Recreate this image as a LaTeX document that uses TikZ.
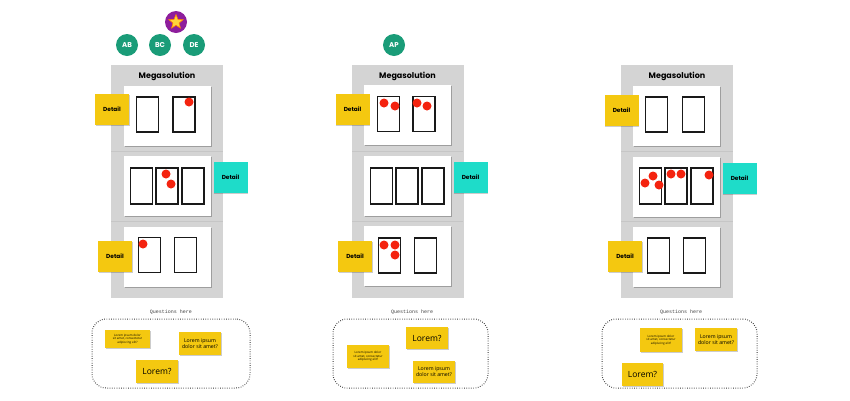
\documentclass[tikz,border=0pt]{standalone}
\usepackage{fontspec}
\usepackage{tikz}
\usetikzlibrary{shapes.geometric, shadows}
\newfontfamily\popfont{Poppins}
\newfontfamily\notefont{Open Sans}
\newfontfamily\qfont{Liberation Mono}
\definecolor{panelgrey}{HTML}{D4D4D4}
\definecolor{sepgrey}{HTML}{C6C6C6}
\definecolor{stickyyellow}{HTML}{F4C810}
\definecolor{stickycyan}{HTML}{1EDCC9}
\definecolor{dotred}{HTML}{F4230F}
\definecolor{teamgreen}{HTML}{1A9C78}
\definecolor{starpurple}{HTML}{8E1E9C}
\definecolor{starfill}{HTML}{FFD43A}

\begin{document}
\begin{tikzpicture}[x=1pt, y=-1pt,
  panel/.style={fill=panelgrey, minimum width=112pt, minimum height=233pt, inner sep=0pt},
  title/.style={font=\popfont\bfseries\fontsize{8}{9}\selectfont},
  sepline/.style={draw=sepgrey, line width=0.6pt},
  card/.style={fill=white, minimum width=87pt, minimum height=60pt, inner sep=0pt,
    drop shadow={shadow xshift=1pt, shadow yshift=-1.2pt, opacity=0.25, fill=black}},
  frame/.style={draw=black!90, line width=1.5pt, minimum width=22pt, minimum height=35pt, inner sep=0pt},
  dot/.style={circle, fill=dotred, minimum size=9pt, inner sep=0pt},
  detail/.style={fill=stickyyellow, minimum width=34pt, minimum height=31pt, inner sep=0pt,
    font=\popfont\bfseries\fontsize{5.8}{7}\selectfont,
    drop shadow={shadow xshift=0.8pt, shadow yshift=-1pt, opacity=0.2, fill=black}},
  cyan/.style={detail, fill=stickycyan},
  team/.style={circle, fill=teamgreen, text=white, minimum size=22pt, inner sep=0pt,
    font=\popfont\bfseries\fontsize{7}{8}\selectfont},
  question/.style={font=\qfont\fontsize{5}{6}\selectfont, text=black!75},
  board/.style={draw=black!80, line width=1pt, dash pattern=on 0.7pt off 1.6pt,
    rounded corners=14pt, minimum height=69pt, inner sep=0pt},
  note/.style={fill=stickyyellow, align=center, inner sep=0pt, minimum width=42pt, minimum height=22pt,
    font=\notefont\fontsize{5.2}{6}\selectfont,
    drop shadow={shadow xshift=0.6pt, shadow yshift=-1pt, opacity=0.2, fill=black}},
  tiny/.style={note, font=\notefont\fontsize{3}{3.6}\selectfont},
  big/.style={note, font=\notefont\fontsize{8.5}{9}\selectfont}
]
\useasboundingbox (0,0) rectangle (850,400);

% votes
\node[team] (ab) at (127,45) {AB};
\node[team] (bc) at (160,45) {BC};
\node[team] (de) at (194,45) {DE};
\node[circle, fill=starpurple, minimum size=22pt, inner sep=0pt] (fav) at (176,22) {};
\node[star, star points=5, star point ratio=2.3, fill=starfill, draw=orange, line width=0.6pt,
  minimum size=15pt, inner sep=0pt] (favstar) at (fav) {};
\node[team] (ap) at (394,45) {AP};

% first solution
\node[panel] (panelA) at (167,181.5) {};
\node[title] (titleA) at (167,76) {Megasolution};
\draw[sepline] (111,151) -- (223,151);
\draw[sepline] (111,221) -- (223,221);
\node[card] (cardA1) at (167.5,116) {};
\node[card] (cardA2) at (167.5,186) {};
\node[card] (cardA3) at (167.5,256.5) {};
\node[frame] (fA11) at (147.5,114.5) {};
\node[frame] (fA12) at (184,114.5) {};
\node[frame, minimum height=36pt] (fA21) at (141.5,186) {};
\node[frame, minimum height=36pt] (fA22) at (167,186) {};
\node[frame, minimum height=36pt] (fA23) at (193,186) {};
\node[frame] (fA31) at (149.5,255) {};
\node[frame] (fA32) at (185.5,255) {};
\node[dot] (dA1) at (189,102) {};
\node[dot] (dA2) at (166,174) {};
\node[dot] (dA3) at (171,184) {};
\node[dot] (dA4) at (143,244) {};
\node[detail] (detA1) at (112,109.5) {Detail};
\node[cyan] (detA2) at (230.5,177) {Detail};
\node[detail] (detA3) at (115,256) {Detail};

% second solution
\node[panel] (panelB) at (407.5,181.5) {};
\node[title] (titleB) at (407.5,76) {Megasolution};
\draw[sepline] (352,151) -- (463,151);
\draw[sepline] (352,221) -- (463,221);
\node[card] (cardB1) at (407.5,115) {};
\node[card] (cardB2) at (407.5,185.5) {};
\node[card] (cardB3) at (407.5,256) {};
\node[frame] (fB11) at (388.5,114) {};
\node[frame] (fB12) at (424,114) {};
\node[frame, minimum height=36pt] (fB21) at (381.5,186) {};
\node[frame, minimum height=36pt] (fB22) at (407,186) {};
\node[frame, minimum height=36pt] (fB23) at (433,186) {};
\node[frame] (fB31) at (389.5,255.5) {};
\node[frame] (fB32) at (425.5,255.5) {};
\node[dot] (dB1) at (384,103) {};
\node[dot] (dB2) at (395,106) {};
\node[dot] (dB3) at (417,103) {};
\node[dot] (dB4) at (427,106) {};
\node[dot] (dB5) at (384,245) {};
\node[dot] (dB6) at (395,245) {};
\node[dot] (dB7) at (395,255) {};
\node[detail] (detB1) at (352.5,109.5) {Detail};
\node[cyan] (detB2) at (470.5,177.5) {Detail};
\node[detail] (detB3) at (355,256) {Detail};

% third solution
\node[panel] (panelC) at (677,181.5) {};
\node[title] (titleC) at (677,76) {Megasolution};
\draw[sepline] (621,151) -- (733,151);
\draw[sepline] (621,221) -- (733,221);
\node[card] (cardC1) at (676.5,116) {};
\node[card] (cardC2) at (676.5,186.5) {};
\node[card] (cardC3) at (676.5,256.5) {};
\node[frame] (fC11) at (656.5,114.5) {};
\node[frame] (fC12) at (693.5,114.5) {};
\node[frame, minimum height=36pt] (fC21) at (650.5,186) {};
\node[frame, minimum height=36pt] (fC22) at (676,186) {};
\node[frame, minimum height=36pt] (fC23) at (702,186) {};
\node[frame] (fC31) at (658.5,255.5) {};
\node[frame] (fC32) at (694.5,255.5) {};
\node[dot] (dC1) at (645,183) {};
\node[dot] (dC2) at (653,176) {};
\node[dot] (dC3) at (659,185) {};
\node[dot] (dC4) at (671,174) {};
\node[dot] (dC5) at (681,174) {};
\node[dot] (dC6) at (709,175) {};
\node[detail] (detC1) at (621.5,110) {Detail};
\node[cyan] (detC2) at (739.5,178) {Detail};
\node[detail] (detC3) at (625,256) {Detail};

% questions
\node[question] (qA) at (171,312) {Questions here};
\node[board, minimum width=158pt] (boardA) at (171,353.5) {};
\node[tiny, minimum width=45pt, minimum height=18pt] (nA1) at (127.5,339) {Lorem ipsum dolor\\sit amet, consectetur\\adipiscing elit?};
\node[note, minimum height=23pt] (nA2) at (200,343.5) {Lorem ipsum\\dolor sit amet?};
\node[big, minimum height=23pt] (nA3) at (157,371.5) {Lorem?};

\node[question] (qB) at (412,312) {Questions here};
\node[board, minimum width=155pt] (boardB) at (410.5,353.5) {};
\node[big] (nB1) at (427,338) {Lorem?};
\node[tiny, minimum height=23pt] (nB2) at (368,356.5) {Lorem ipsum dolor\\sit amet, consectetur\\adipiscing elit?};
\node[note] (nB3) at (434,372) {Lorem ipsum\\dolor sit amet?};

\node[question] (qC) at (681,312) {Questions here};
\node[board, minimum width=155pt] (boardC) at (679.5,353.5) {};
\node[tiny, minimum height=24pt] (nC1) at (661,340) {Lorem ipsum dolor\\sit amet, consectetur\\adipiscing elit?};
\node[note, minimum height=23pt] (nC2) at (716,339.5) {Lorem ipsum\\dolor sit amet?};
\node[big, minimum width=41pt, minimum height=23pt] (nC3) at (642.5,374.5) {Lorem?};
\end{tikzpicture}
\end{document}
